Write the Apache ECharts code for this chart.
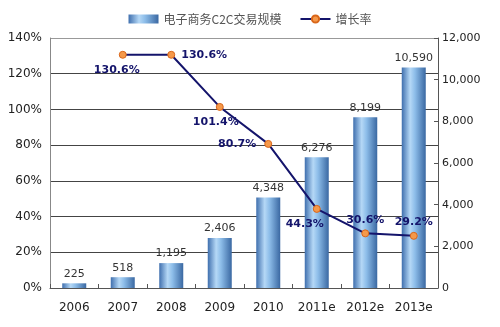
<!DOCTYPE html>
<html><head><meta charset="utf-8">
<script src="https://cdn.jsdelivr.net/npm/echarts@6/dist/echarts.min.js"></script>
<style>html,body{margin:0;padding:0;background:#fff}#c{width:500px;height:327px}</style>
</head><body><div id="c"></div>
<script>
const categories = ['2006','2007','2008','2009','2010','2011e','2012e','2013e'];
const scaleValues = [225, 518, 1195, 2406, 4348, 6276, 8199, 10590];
const growthValues = [null, 130.6, 130.6, 101.4, 80.7, 44.3, 30.6, 29.2];
const growthLabelPos = [null, 'bottom', 'right', 'bottom', 'left', 'bottom', 'top', 'top'];
const growthLabelOffset = [null, [-6,0], [0,0], [-4,0], [-2,0], [-12,0], [0,2], [0,2]];
const seriesNames = ['电子商务C2C交易规模', '增长率'];

const barGrad = new echarts.graphic.LinearGradient(0,0,1,0,[
  {offset:0,color:'#3f6fae'},{offset:0.35,color:'#b5d8f6'},{offset:0.55,color:'#8dbde9'},{offset:1,color:'#3a68a2'}]);
const chart = echarts.init(document.getElementById('c'), null, {renderer:'canvas'});
const font = 'DejaVu Sans';
chart.setOption({
  animation:false,
  textStyle:{fontFamily:font},
  legend:{
    top:8, left:'center', itemGap:18, itemWidth:30, itemHeight:9,
    textStyle:{fontFamily:'Noto Sans CJK SC', fontSize:12, color:'#555'},
    data:[{name:seriesNames[0], icon:'rect'}, {name:seriesNames[1]}]
  },
  grid:{left:50, right:62, top:38, bottom:39},
  xAxis:{
    type:'category', data:categories,
    axisLine:{lineStyle:{color:'#555', width:1}},
    axisTick:{show:true, inside:true, length:4, lineStyle:{color:'#555'}},
    axisLabel:{color:'#222', fontSize:12, margin:14, fontFamily:font, interval:0}
  },
  yAxis:[
    {type:'value', min:0, max:140, interval:20, position:'left',
     axisLine:{show:true, lineStyle:{color:'#888'}},
     axisTick:{show:false},
     axisLabel:{formatter:'{value}%', color:'#222', fontSize:12, margin:8, fontFamily:font},
     splitLine:{show:true, lineStyle:{color:['#444','#444','#444','#444','#444','#444','#444','#999'], width:1}}
    },
    {type:'value', min:0, max:12000, interval:2000, position:'right',
     axisLine:{show:true, lineStyle:{color:'#555'}},
     axisTick:{show:true, inside:true, length:4, lineStyle:{color:'#555'}},
     axisLabel:{color:'#222', fontSize:11, margin:4, fontFamily:font,
       formatter:v=>v.toLocaleString('en-US')},
     splitLine:{show:false}
    }
  ],
  series:[
    {name:seriesNames[0], type:'bar', yAxisIndex:1, data:scaleValues, barWidth:24,
     itemStyle:{color:barGrad},
     label:{show:true, position:'top', distance:4, color:'#333', fontSize:11, fontFamily:font,
       formatter:p=>p.value.toLocaleString('en-US')}
    },
    {name:seriesNames[1], type:'line', yAxisIndex:0,
     data:growthValues.map((v,i)=>v==null?null:{value:v, label:{position:growthLabelPos[i], offset:growthLabelOffset[i]}}),
     symbol:'circle', symbolSize:7,
     lineStyle:{color:'#14146b', width:2},
     itemStyle:{color:'#f5994a', borderColor:'#d9661a', borderWidth:1},
     label:{show:true, color:'#14146b', fontWeight:'bold', fontSize:11, fontFamily:font, distance:6,
       formatter:p=>p.value.toFixed(1)+'%'}
    }
  ]
});
</script></body></html>
